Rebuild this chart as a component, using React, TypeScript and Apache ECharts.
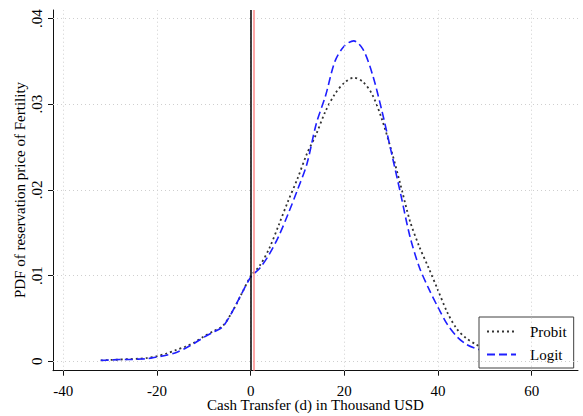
import React, { useEffect, useRef } from "react";
import * as echarts from "echarts";

const xValues = [-32, -30, -28, -26, -24, -22, -20, -18, -16, -14, -12, -10, -8, -6, -4, -2, 0, 2, 4, 6, 8, 10, 12, 14, 16, 18, 20, 22, 24, 26, 28, 30, 32, 34, 36, 38, 40, 42, 44, 46, 48, 50, 52, 54];
const probitValues = [0.0001, 0.00015, 0.0002, 0.00025, 0.0003, 0.0004, 0.0006, 0.0009, 0.0013, 0.0017, 0.0022, 0.0029, 0.0035, 0.0041, 0.0057, 0.0078, 0.0099, 0.0112, 0.0132, 0.0159, 0.0187, 0.0213, 0.0242, 0.0265, 0.0292, 0.0312, 0.0325, 0.0331, 0.0326, 0.0311, 0.0283, 0.0247, 0.0206, 0.0164, 0.0134, 0.0109, 0.0083, 0.0057, 0.0038, 0.0027, 0.002, 0.0014, 0.001, 0.0007];
const logitValues = [0.0001, 0.00015, 0.0002, 0.0002, 0.00025, 0.0003, 0.0005, 0.0007, 0.001, 0.0015, 0.0021, 0.0028, 0.0034, 0.004, 0.0057, 0.0078, 0.0098, 0.0109, 0.0125, 0.0146, 0.0172, 0.02, 0.023, 0.0277, 0.031, 0.035, 0.0368, 0.0374, 0.0364, 0.0335, 0.0293, 0.0245, 0.0196, 0.0146, 0.011, 0.0085, 0.0063, 0.0043, 0.0029, 0.002, 0.0015, 0.0012, 0.0009, 0.0007];
const xTicks = [-40, -20, 0, 20, 40, 60];
const yTicks = [0, 0.01, 0.02, 0.03, 0.04];
const yTickLabels = ["0", ".01", ".02", ".03", ".04"];
const zeroLine = 0;
const redLine = 0.65;

const FONT = "'Liberation Serif', 'Times New Roman', serif";

export default function App() {
  const ref = useRef<HTMLDivElement>(null);
  useEffect(() => {
    if (!ref.current) return;
    document.body.style.margin = "0";
    const chart = echarts.init(ref.current, null, { renderer: "svg" });
    const gridStyle = { color: "#cfcfcf", width: 1, type: [1, 3] };
    chart.setOption({
      animation: false,
      backgroundColor: "#fff",
      grid: { left: 53, top: 10, right: 5, bottom: 45.3, containLabel: false, outerBoundsMode: "none" },
      xAxis: {
        type: "value",
        min: -42.2,
        max: 69.9,
        name: "Cash Transfer (d) in Thousand USD",
        nameLocation: "middle",
        nameGap: 27.7,
        nameMoveOverlap: false,
        nameTextStyle: { fontFamily: FONT, fontSize: 15, lineHeight: 14, color: "#000" },
        axisLine: { show: true, onZero: false, lineStyle: { color: "#111", width: 1 } },
        axisTick: { show: true, length: 5, customValues: xTicks, lineStyle: { color: "#111" } },
        axisLabel: { customValues: xTicks, margin: 13.5, fontFamily: FONT, fontSize: 15, lineHeight: 14, color: "#000" },
        splitLine: { show: false },
      },
      yAxis: {
        type: "value",
        min: -0.0011,
        max: 0.041,
        axisLine: { show: true, onZero: false, lineStyle: { color: "#111", width: 1 } },
        axisTick: { show: true, length: 5, customValues: yTicks, lineStyle: { color: "#111" } },
        axisLabel: {
          customValues: yTicks,
          rotate: 90,
          margin: 9,
          fontFamily: FONT,
          fontSize: 15,
          color: "#000",
          formatter: (v: number) => {
            const i = yTicks.findIndex((t) => Math.abs(t - v) < 1e-9);
            return i >= 0 ? yTickLabels[i] : "";
          },
        },
        splitLine: { show: false },
      },
      legend: {
        orient: "vertical",
        left: 479,
        top: 317,
        padding: [7, 7, 6, 7],
        itemWidth: 29,
        itemHeight: 14,
        itemGap: 8,
        backgroundColor: "#fff",
        borderColor: "#404040",
        borderWidth: 1,
        borderRadius: 0,
        itemStyle: { opacity: 0 },
        textStyle: { fontFamily: FONT, fontSize: 15, color: "#000", padding: [0, 0, 0, 9] },
        data: ["Probit", "Logit"],
      },
      graphic: [
        {
          type: "text",
          x: 20,
          y: 190,
          rotation: Math.PI / 2,
          style: {
            text: "PDF of reservation price of Fertility",
            fontFamily: FONT,
            fontSize: 15,
            fill: "#000",
            align: "center",
            verticalAlign: "middle",
          },
        },
      ],
      series: [
        {
          name: "grid",
          type: "line",
          data: [],
          z: 1,
          markLine: {
            silent: true,
            symbol: "none",
            label: { show: false },
            lineStyle: gridStyle,
            data: [
              ...xTicks.map((v) => ({ xAxis: v })),
              ...yTicks.map((v) => ({ yAxis: v })),
            ],
          },
        },
        {
          name: "Probit",
          type: "line",
          showSymbol: false,
          symbol: "none",
          smooth: 0.3,
          z: 3,
          data: xValues.map((x, i) => [x, probitValues[i]]),
          lineStyle: { color: "#333", width: 1.8, type: [2, 3] },
          itemStyle: { color: "#333" },
        },
        {
          name: "Logit",
          type: "line",
          showSymbol: false,
          symbol: "none",
          smooth: 0.3,
          z: 3,
          data: xValues.map((x, i) => [x, logitValues[i]]),
          lineStyle: { color: "#1f1fff", width: 1.6, type: [8, 4] },
          itemStyle: { color: "#1f1fff" },
          markLine: {
            silent: true,
            symbol: "none",
            label: { show: false },
            data: [
              { xAxis: zeroLine, lineStyle: { color: "#000", width: 1.5, type: "solid" } },
              { xAxis: redLine, lineStyle: { color: "#ff8a8a", width: 1.5, type: "solid" } },
            ],
          },
        },
      ],
    });
    return () => chart.dispose();
  }, []);
  return <div ref={ref} style={{ width: 583, height: 416 }} />;
}
